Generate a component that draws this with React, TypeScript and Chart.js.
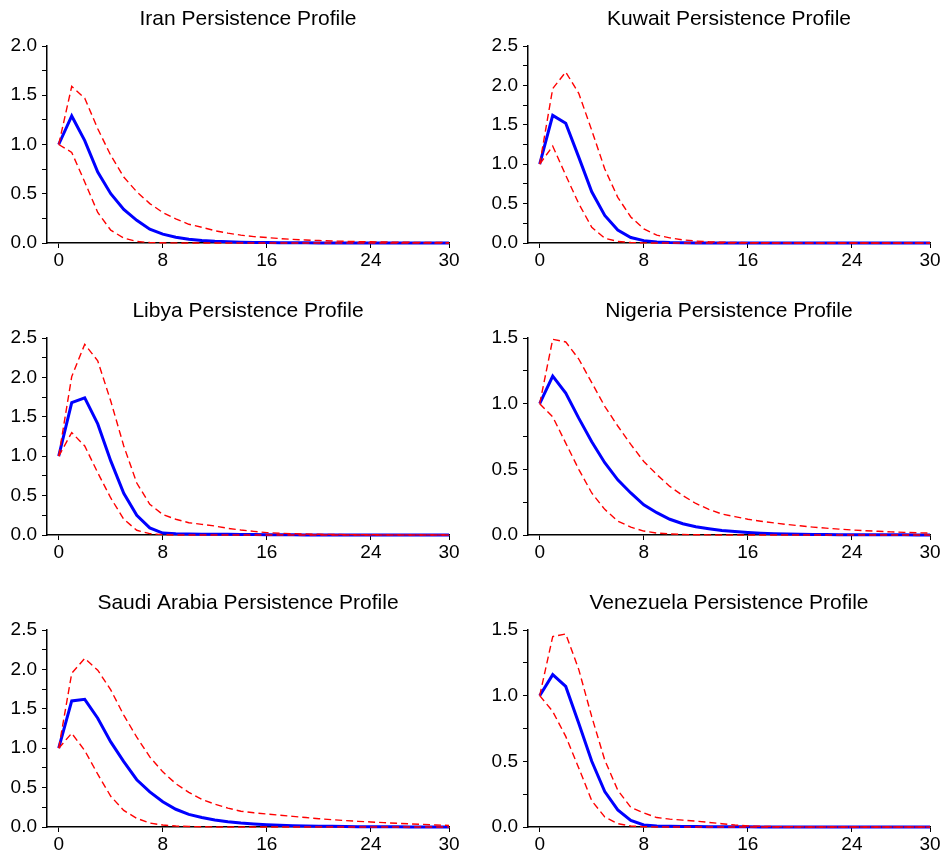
import React, { useEffect, useRef } from "react";
import { Chart, registerables } from "chart.js";

Chart.register(...registerables);

const horizons = [0, 1, 2, 3, 4, 5, 6, 7, 8, 9, 10, 11, 12, 13, 14, 15, 16, 17, 18, 19, 20, 21, 22, 23, 24, 25, 26, 27, 28, 29, 30];
const xTickValues = [0, 8, 16, 24, 30];

const iranEst = [1.0, 1.29, 1.04, 0.72, 0.5, 0.34, 0.23, 0.14, 0.09, 0.058, 0.037, 0.025, 0.017, 0.012, 0.008, 0.005, 0.004, 0.003, 0.002, 0.0015, 0.001, 0.001, 0.0007, 0.0005, 0.0004, 0.0003, 0.0002, 0.0002, 0.0001, 0.0001, 0.0001];
const iranUpper = [1.0, 1.59, 1.47, 1.16, 0.89, 0.67, 0.52, 0.4, 0.31, 0.245, 0.19, 0.16, 0.125, 0.1, 0.08, 0.065, 0.055, 0.045, 0.037, 0.03, 0.025, 0.02, 0.017, 0.014, 0.012, 0.01, 0.008, 0.007, 0.006, 0.005, 0.004];
const iranLower = [1.0, 0.92, 0.62, 0.31, 0.13, 0.05, 0.015, 0.005, 0.002, 0.001, 0, 0, 0, 0, 0, 0, 0, 0, 0, 0, 0, 0, 0, 0, 0, 0, 0, 0, 0, 0, 0];

const kuwaitEst = [1.0, 1.62, 1.52, 1.09, 0.65, 0.35, 0.165, 0.07, 0.03, 0.012, 0.005, 0.002, 0.001, 0, 0, 0, 0, 0, 0, 0, 0, 0, 0, 0, 0, 0, 0, 0, 0, 0, 0];
const kuwaitUpper = [1.0, 1.96, 2.17, 1.9, 1.43, 0.94, 0.58, 0.33, 0.18, 0.1, 0.065, 0.04, 0.025, 0.015, 0.01, 0.007, 0.005, 0.003, 0.002, 0.001, 0, 0, 0, 0, 0, 0, 0, 0, 0, 0, 0];
const kuwaitLower = [1.0, 1.23, 0.86, 0.5, 0.2, 0.06, 0.02, 0.006, 0.002, 0, 0, 0, 0, 0, 0, 0, 0, 0, 0, 0, 0, 0, 0, 0, 0, 0, 0, 0, 0, 0, 0];

const libyaEst = [1.0, 1.68, 1.74, 1.41, 0.94, 0.53, 0.25, 0.09, 0.025, 0.015, 0.012, 0.01, 0.009, 0.008, 0.006, 0.005, 0.003, 0.002, 0.002, 0.001, 0.001, 0, 0, 0, 0, 0, 0, 0, 0, 0, 0];
const libyaUpper = [1.0, 2.01, 2.42, 2.21, 1.7, 1.13, 0.66, 0.39, 0.26, 0.2, 0.156, 0.135, 0.114, 0.085, 0.063, 0.046, 0.03, 0.022, 0.016, 0.012, 0.009, 0.007, 0.005, 0.004, 0.003, 0.002, 0.002, 0.001, 0.001, 0.001, 0.001];
const libyaLower = [1.0, 1.3, 1.13, 0.79, 0.47, 0.2, 0.06, 0.017, 0.005, 0, 0, 0, 0, 0, 0, 0, 0, 0, 0, 0, 0, 0, 0, 0, 0, 0, 0, 0, 0, 0, 0];

const nigeriaEst = [1.0, 1.21, 1.08, 0.89, 0.71, 0.55, 0.42, 0.32, 0.23, 0.17, 0.12, 0.086, 0.063, 0.048, 0.035, 0.026, 0.019, 0.014, 0.01, 0.008, 0.006, 0.004, 0.003, 0.002, 0.002, 0.001, 0.001, 0.001, 0.001, 0.0005, 0.0005];
const nigeriaUpper = [1.0, 1.49, 1.47, 1.34, 1.16, 0.98, 0.83, 0.69, 0.56, 0.46, 0.37, 0.3, 0.24, 0.195, 0.16, 0.14, 0.12, 0.105, 0.092, 0.08, 0.07, 0.06, 0.052, 0.045, 0.038, 0.033, 0.028, 0.024, 0.02, 0.017, 0.015];
const nigeriaLower = [1.0, 0.9, 0.7, 0.5, 0.32, 0.195, 0.106, 0.06, 0.03, 0.015, 0.008, 0.004, 0.002, 0.001, 0, 0, 0, 0, 0, 0, 0, 0, 0, 0, 0, 0, 0, 0, 0, 0, 0];

const saudiEst = [1.0, 1.6, 1.62, 1.38, 1.08, 0.83, 0.6, 0.445, 0.32, 0.225, 0.16, 0.12, 0.09, 0.068, 0.05, 0.038, 0.029, 0.022, 0.017, 0.013, 0.01, 0.008, 0.006, 0.004, 0.003, 0.002, 0.002, 0.001, 0.001, 0.001, 0.001];
const saudiUpper = [1.0, 1.95, 2.14, 1.99, 1.74, 1.42, 1.14, 0.89, 0.7, 0.55, 0.44, 0.35, 0.29, 0.24, 0.2, 0.18, 0.165, 0.15, 0.135, 0.12, 0.105, 0.093, 0.082, 0.072, 0.064, 0.055, 0.047, 0.04, 0.033, 0.026, 0.02];
const saudiLower = [1.0, 1.19, 0.97, 0.67, 0.39, 0.21, 0.11, 0.05, 0.025, 0.012, 0.006, 0.003, 0.001, 0, 0, 0, 0, 0, 0, 0, 0, 0, 0, 0, 0, 0, 0, 0, 0, 0, 0];

const venezuelaEst = [1.0, 1.16, 1.07, 0.79, 0.5, 0.27, 0.13, 0.05, 0.015, 0.007, 0.005, 0.004, 0.003, 0.002, 0.002, 0.001, 0.001, 0, 0, 0, 0, 0, 0, 0, 0, 0, 0, 0, 0, 0, 0];
const venezuelaUpper = [1.0, 1.45, 1.47, 1.2, 0.84, 0.51, 0.28, 0.15, 0.107, 0.072, 0.06, 0.052, 0.045, 0.035, 0.025, 0.015, 0.008, 0.005, 0.003, 0.002, 0.001, 0, 0, 0, 0, 0, 0, 0, 0, 0, 0];
const venezuelaLower = [1.0, 0.88, 0.69, 0.45, 0.2, 0.076, 0.025, 0.008, 0.002, 0, 0, 0, 0, 0, 0, 0, 0, 0, 0, 0, 0, 0, 0, 0, 0, 0, 0, 0, 0, 0, 0];

const titles = [
  "Iran Persistence Profile",
  "Kuwait Persistence Profile",
  "Libya Persistence Profile",
  "Nigeria Persistence Profile",
  "Saudi Arabia Persistence Profile",
  "Venezuela Persistence Profile",
];
const yMaxes = [2.0, 2.5, 2.5, 1.5, 2.5, 1.5];

const panels = [
  { title: titles[0], yMax: yMaxes[0], est: iranEst, upper: iranUpper, lower: iranLower },
  { title: titles[1], yMax: yMaxes[1], est: kuwaitEst, upper: kuwaitUpper, lower: kuwaitLower },
  { title: titles[2], yMax: yMaxes[2], est: libyaEst, upper: libyaUpper, lower: libyaLower },
  { title: titles[3], yMax: yMaxes[3], est: nigeriaEst, upper: nigeriaUpper, lower: nigeriaLower },
  { title: titles[4], yMax: yMaxes[4], est: saudiEst, upper: saudiUpper, lower: saudiLower },
  { title: titles[5], yMax: yMaxes[5], est: venezuelaEst, upper: venezuelaUpper, lower: venezuelaLower },
];

const FONT = "'Liberation Sans', Arial, Helvetica, sans-serif";
const CANVAS_W = 462;
const CANVAS_H = 271;
const colLefts = [0, 480.7];
const rowTops = [0, 292.3, 584];

function toPoints(values: number[]) {
  return values.map((y, i) => ({ x: horizons[i], y }));
}

function Panel({ panel, left, top }: { panel: any; left: number; top: number }) {
  const ref = useRef<HTMLCanvasElement | null>(null);
  useEffect(() => {
    const canvas = ref.current;
    if (!canvas) return;
    const redDash = {
      borderColor: "#ff0000",
      borderWidth: 1.4,
      borderDash: [7, 4],
      pointRadius: 0,
      tension: 0,
      fill: false,
      clip: false as any,
    };
    const chart = new Chart(canvas, {
      type: "line",
      data: {
        datasets: [
          { ...redDash, label: "lower", data: toPoints(panel.lower) },
          { ...redDash, label: "upper", data: toPoints(panel.upper) },
          {
            label: "estimate",
            data: toPoints(panel.est),
            borderColor: "#0000ff",
            borderWidth: 3,
            pointRadius: 0,
            tension: 0,
            fill: false,
            clip: false as any,
          },
        ],
      },
      options: {
        animation: false,
        responsive: false,
        devicePixelRatio: 1,
        layout: { padding: { left: 0, right: 13, top: 0, bottom: 0 } },
        plugins: {
          legend: { display: false },
          tooltip: { enabled: false },
          title: {
            display: true,
            fullSize: false,
            text: panel.title,
            color: "#000",
            font: { family: FONT, size: 21, weight: "normal" as any, lineHeight: 1.2 },
            padding: { top: 7, bottom: 13.8 },
          },
        },
        scales: {
          x: {
            type: "linear",
            min: -0.9,
            max: 30,
            afterBuildTicks: (scale: any) => {
              scale.ticks = xTickValues.map((v) => ({ value: v }));
            },
            afterFit: (scale: any) => {
              scale.height = 28;
            },
            ticks: {
              color: "#000",
              font: { family: FONT, size: 19 },
              padding: 1,
              maxRotation: 0,
              autoSkip: false,
              callback: (v: any) => String(v),
            },
            grid: { drawOnChartArea: false, drawTicks: true, tickLength: 5, color: "#000", lineWidth: 1 },
            border: { display: true, color: "#000", width: 1.5 },
          },
          y: {
            type: "linear",
            min: 0,
            max: panel.yMax,
            afterFit: (scale: any) => {
              scale.width = 47;
            },
            ticks: {
              stepSize: 0.25,
              color: "#000",
              font: { family: FONT, size: 19 },
              padding: 5,
              autoSkip: false,
              callback: (v: any) => {
                const n = Number(v);
                return Math.abs(n * 2 - Math.round(n * 2)) < 1e-9 ? n.toFixed(1) : "";
              },
            },
            grid: { drawOnChartArea: false, drawTicks: true, tickLength: 5, color: "#000", lineWidth: 1 },
            border: { display: true, color: "#000", width: 1.5 },
          },
        },
      },
    });
    return () => chart.destroy();
  }, [panel]);
  return (
    <canvas
      ref={ref}
      width={CANVAS_W}
      height={CANVAS_H}
      style={{ position: "absolute", left, top, width: CANVAS_W, height: CANVAS_H }}
    />
  );
}

export default function App() {
  return (
    <div style={{ position: "absolute", left: 0, top: 0, width: 943, height: 855, background: "#fff", overflow: "hidden" }}>
      {panels.map((p, i) => (
        <Panel key={i} panel={p} left={colLefts[i % 2]} top={rowTops[Math.floor(i / 2)]} />
      ))}
    </div>
  );
}
